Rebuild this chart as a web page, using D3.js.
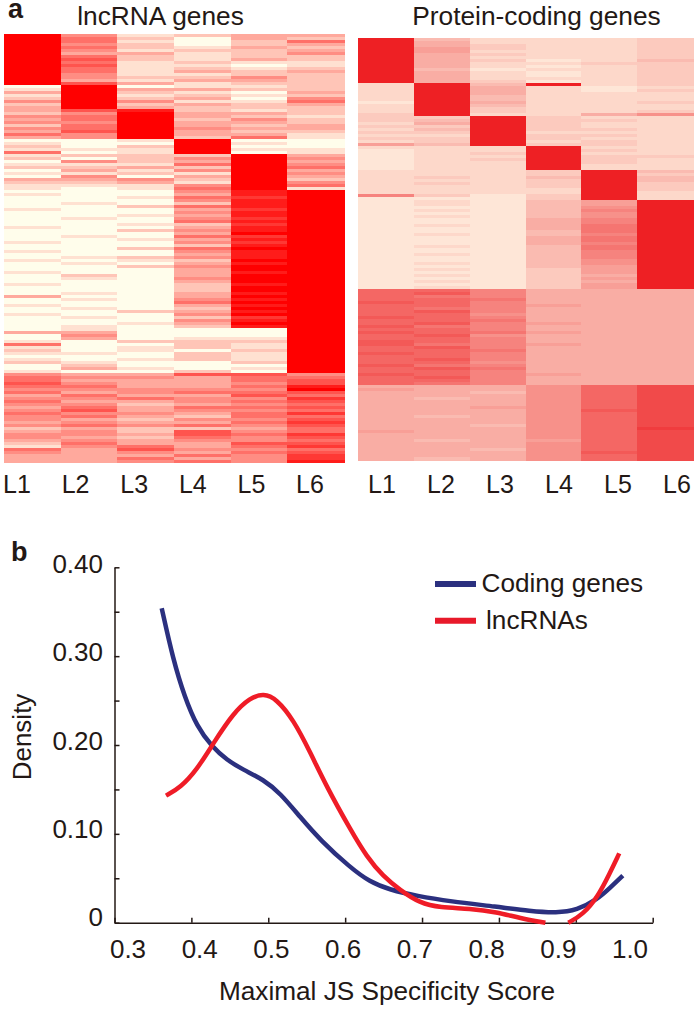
<!DOCTYPE html>
<html>
<head>
<meta charset="utf-8">
<script src="https://cdn.jsdelivr.net/npm/d3@7"></script>
<style>
  html, body { margin: 0; padding: 0; background: #fff; }
  text { font-family: "Liberation Sans", Arial, sans-serif; fill: #231815; }
</style>
</head>
<body>
<div id="plot"></div>
<script>
let layers = ["L1", "L2", "L3", "L4", "L5", "L6"]

// heatmap rows: one string per gene bin, one digit per layer L1..L6
// lncRNA digits run 0-9
let lncRows = [
  "941233","952032","951025","942023","952132","941223","933124","952122","962132","951211",
  "961101","951212","951323","941122","942242","931332","963122",
  "090112","193322","392103","191212","292304","494115","292323","393222",
  "368212","249332","459321","359242","449332","259323","459433","369322","549331","349251",
  "001900","100910","202900","111911","501901",
  "122293","202494","042393","111594","223295","031493","112194","040393","334292","223194","111495","101591",
  "000489","100389","001579","000489","010289","002589","100379","000489","001389","010479",
  "000589","001279","100389","002489","000399","010579","001389","100479","000289","002599",
  "100489","000389","012489","101299","010389","002499","000399","100389","020399","010499",
  "000399","100289","000299","000299","010389","300399","010489","000599","100389","010299",
  "002389","100499","010279","000489","001399","010289",
  "010009","330009","040009","030119","102229","500219","101219","201029","110219","000219",
  "101219","210029","020009","031019","100209",
  "433664","544355","533356","643346","553358","444449","534556","353365","445447","533456",
  "442345","353556","463445","544357","453255","432446","343357","454546","232235","342645",
  "443657","432546","343445","253366","145357","536445","434356","333547","335347","334548"
]

// protein-coding digits run 0-f, the picture is much smoother
let proteinRows = [
  "f42223","f52223","f53223","f63223","f62223","f53223","f52223","f53124","f52233","f52123",
  "f41223","f52123","f52123","f52223","f53123",
  "2f4f23","2f5212","2f5213","2f5222","2f4222","2f4222","1f5223","2f4222","2f3222","2f3223","3f2257",
  "33f322","34f332","25f322","33f322","24f332","33f222","22f332","33f322","23f232","64f332",
  "222f22","122f32","123f22","122f33","123f32","122f32","122f22","122f22",
  "2223f4","2223f3","2324f4","2223f4","2323f3","2223f3","2222f3","2222f2","8313f2","1113f2",
  "12146f","12146f","11147f","12148f","11147f","12147f","11158f","11158f","12159f","11159f",
  "11149f","12148f","11159f","11159f","11158f","12149f","11149f","11148f","12148f","11148f",
  "11147f","12147f","11146f","12136f","11136f","12135f","11136f","12135f","11136f","12136f",
  "aa8555","ab8555","a98555","aa9555","ba8555","aa8655","a98555","ab8555","aa7555","ba8555",
  "aa9555","ab8655","b98555","aa8555","ba9655","ab7555","aa8555","ba8555","b98655","ab8555",
  "aa9555","ba8555","aa8555","ab8555","aa7555","b98555","ab9555","aa8555","ba8655","ab8555",
  "aa8555","a98555",
  "5557ac","6557ac","5547ac","5557ac","5457ac","5557ac","5557ac","5567ac","5557bc","5557ac",
  "5457ac","5557ac","5557ac","5547ac","5557ad","6557ac","5557ac","5557ac","5456ac","5557ac",
  "5557ac","5547ac","5557bc","5557ac","5457ac"
]

// density curves
let codingX = [0.347, 0.363, 0.379, 0.396, 0.417, 0.438, 0.461, 0.489, 0.512, 0.540, 0.568, 0.610,
  0.637, 0.665, 0.703, 0.749, 0.814, 0.861, 0.898, 0.926, 0.954, 0.972, 0.990]
let codingY = [0.354, 0.296, 0.254, 0.221, 0.198, 0.183, 0.172, 0.161, 0.146, 0.119, 0.093, 0.062,
  0.046, 0.037, 0.030, 0.024, 0.018, 0.013, 0.011, 0.014, 0.026, 0.039, 0.053]
let lncX = [0.353, 0.373, 0.396, 0.419, 0.447, 0.470, 0.489, 0.507, 0.531, 0.554, 0.577, 0.610,
  0.633, 0.656, 0.679, 0.707, 0.735, 0.777, 0.814, 0.847, 0.882]
let lncY = [0.143, 0.152, 0.172, 0.202, 0.236, 0.253, 0.258, 0.252, 0.228, 0.192, 0.153, 0.105,
  0.074, 0.052, 0.037, 0.022, 0.017, 0.016, 0.012, 0.005, 0]
// lncRNA curve drops below zero between 0.88 and 0.91 and is cut off there
let lncTailX = [0.914, 0.934, 0.955, 0.972, 0.985]
let lncTailY = [0, 0.009, 0.029, 0.056, 0.078]

let xTicks = [0.3, 0.4, 0.5, 0.6, 0.7, 0.8, 0.9, 1.0]
let yTicks = [0, 0.05, 0.1, 0.15, 0.2, 0.25, 0.3, 0.35, 0.4]
let yLabels = [0, 0.1, 0.2, 0.3, 0.4]
let legendNames = ["Coding genes", "lncRNAs"]

const blue = "#2b307f"
const red = "#ef1c27"
const axisColor = "#231815"

let svg = d3.select("#plot").append("svg")
  .attr("width", 700)
  .attr("height", 1009)
  .style("display", "block")

function drawHeatmap(rows, maxLevel, xRange, yRange, low, high, labelRange, title, titleX) {
  let x = d3.scaleBand().domain(layers).range(xRange)
  let y = d3.scaleBand().domain(d3.range(rows.length)).range(yRange)
  let color = d3.scaleLinear().domain([0, maxLevel]).range([low, high])

  let g = svg.append("g").attr("shape-rendering", "crispEdges")
  rows.forEach(function(row, i) {
    g.selectAll(null).data(Array.from(row, c => parseInt(c, 16))).enter()
      .append("rect")
      .attr("x", (d, j) => x(layers[j]))
      .attr("y", y(i))
      .attr("width", x.bandwidth() + 0.5)
      .attr("height", y.bandwidth() + 0.5)
      .attr("fill", d => color(d))
  })

  // labels sit a bit left of the column centres in the original
  let labelX = d3.scalePoint().domain(layers).range(labelRange)
  svg.selectAll(null).data(layers).enter()
    .append("text")
    .attr("x", d => labelX(d))
    .attr("y", 493)
    .attr("text-anchor", "middle")
    .style("font-size", "25px")
    .text(d => d)

  svg.append("text")
    .attr("x", titleX)
    .attr("y", 25)
    .attr("text-anchor", "middle")
    .style("font-size", "26.3px")
    .text(title)
}

drawHeatmap(lncRows, 9, [4, 344], [34, 462.5], "#fffdeb", "#ff0000", [17, 310], "lncRNA genes", 160.5)
drawHeatmap(proteinRows, 15, [358, 693], [38, 460], "#fff4e4", "#ee2024", [382, 677], "Protein-coding genes", 536.5)

svg.append("text").attr("x", 8).attr("y", 18)
  .style("font-size", "27px").style("font-weight", "bold").text("a")
svg.append("text").attr("x", 11).attr("y", 561)
  .style("font-size", "27px").style("font-weight", "bold").text("b")

// panel b
let x = d3.scaleLinear().domain([0.3, 1.0]).range([128, 630])
let xTickPos = d3.scalePoint().domain(xTicks).range([114.5, 652.7])
let y = d3.scaleLinear().domain([0, 0.4]).range([922.7, 567.3])
let yLabelPos = d3.scaleLinear().domain([0, 0.4]).range([926, 573])

let xAxis = svg.append("g")
  .attr("transform", "translate(0,922.7)")
  .call(d3.axisBottom(xTickPos).tickSizeInner(-5).tickSizeOuter(0).tickFormat(""))
let yAxis = svg.append("g")
  .attr("transform", "translate(114.5,0)")
  .call(d3.axisLeft(y).tickValues(yTicks).tickSizeInner(-5).tickSizeOuter(0).tickFormat(""))

xAxis.selectAll("path, line").attr("stroke", axisColor).attr("stroke-width", 1.5)
yAxis.selectAll("path, line").attr("stroke", axisColor).attr("stroke-width", 1.5)

svg.selectAll(null).data(xTicks).enter()
  .append("text")
  .attr("x", d => x(d))
  .attr("y", 958)
  .attr("text-anchor", "middle")
  .style("font-size", "26px")
  .text(d => d.toFixed(1))

svg.selectAll(null).data(yLabels).enter()
  .append("text")
  .attr("x", 103)
  .attr("y", d => yLabelPos(d))
  .attr("text-anchor", "end")
  .style("font-size", "26px")
  .text(d => d === 0 ? "0" : d.toFixed(2))

svg.append("text")
  .attr("x", 387)
  .attr("y", 1000)
  .attr("text-anchor", "middle")
  .style("font-size", "26.2px")
  .text("Maximal JS Specificity Score")

svg.append("text")
  .attr("transform", "translate(31,737) rotate(-90)")
  .attr("text-anchor", "middle")
  .style("font-size", "26px")
  .text("Density")

// basis smooths out the small reading errors in the points
let line = d3.line()
  .x(d => x(d[0]))
  .y(d => y(d[1]))
  .curve(d3.curveBasis)

function drawCurve(xs, ys, color) {
  svg.append("path")
    .attr("d", line(d3.zip(xs, ys)))
    .attr("fill", "none")
    .attr("stroke", color)
    .attr("stroke-width", 4.5)
}

drawCurve(codingX, codingY, blue)
drawCurve(lncX, lncY, red)
drawCurve(lncTailX, lncTailY, red)

// legend
let legendY = d3.scalePoint().domain(legendNames).range([584, 620.7])
let legendTextX = d3.scaleOrdinal().domain(legendNames).range([481.5, 486])
let legendColor = d3.scaleOrdinal().domain(legendNames).range([blue, "#e8192a"])

svg.selectAll(null).data(legendNames).enter()
  .append("line")
  .attr("x1", 435)
  .attr("x2", 476)
  .attr("y1", d => legendY(d))
  .attr("y2", d => legendY(d))
  .attr("stroke", d => legendColor(d))
  .attr("stroke-width", 6)

svg.selectAll(null).data(legendNames).enter()
  .append("text")
  .attr("x", d => legendTextX(d))
  .attr("y", d => legendY(d) + 8)
  .style("font-size", "26.2px")
  .text(d => d)
</script>
</body>
</html>
